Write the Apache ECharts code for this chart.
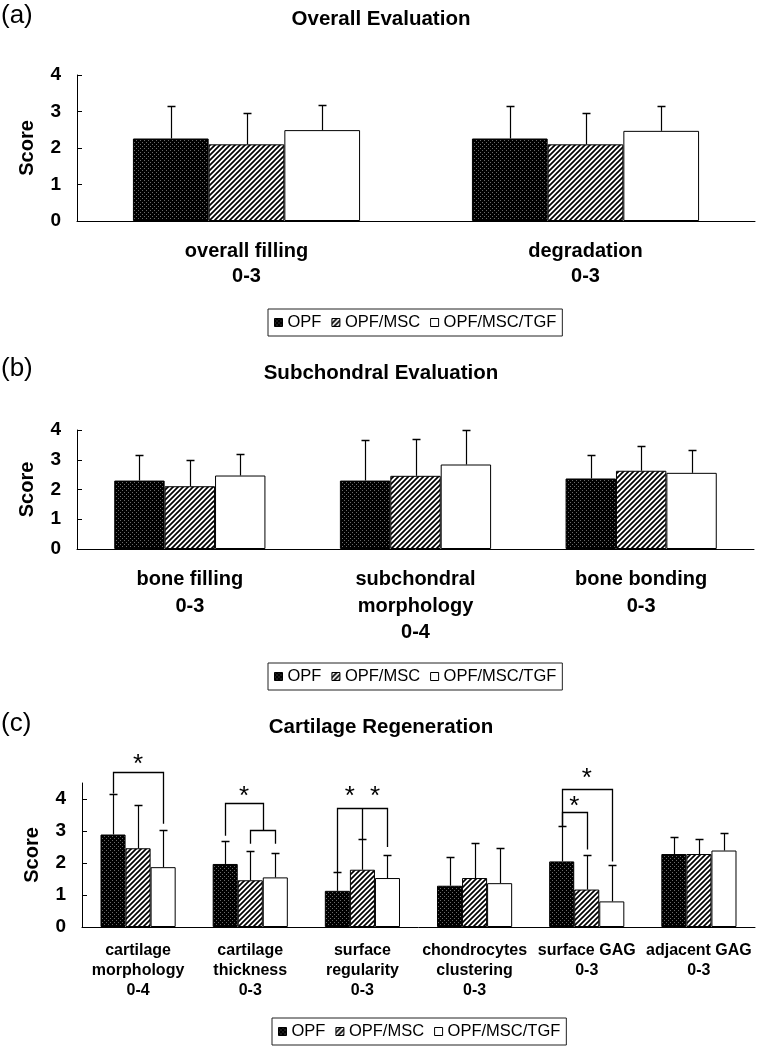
<!DOCTYPE html>
<html><head><meta charset="utf-8">
<script src="https://cdn.jsdelivr.net/npm/echarts@6/dist/echarts.min.js"></script>
<style>html,body{margin:0;padding:0;background:#fff}#c{width:758px;height:1048px}</style>
</head><body><div id="c"></div>
<script>
// ---------------- data ----------------
const seriesNames = ['OPF', 'OPF/MSC', 'OPF/MSC/TGF'];
const panelLetters = ['(a)', '(b)', '(c)'];
const panelTitles = ['Overall Evaluation', 'Subchondral Evaluation', 'Cartilage Regeneration'];
const yTicks = [0, 1, 2, 3, 4];

// (a) Overall Evaluation
const catsA = ['overall filling\n0-3', 'degradation\n0-3'];
const meanA_OPF = [2.26, 2.26];
const meanA_MSC = [2.10, 2.10];
const meanA_TGF = [2.49, 2.47];
const sdA_OPF = [0.88, 0.88];
const sdA_MSC = [0.87, 0.87];
const sdA_TGF = [0.69, 0.67];

// (b) Subchondral Evaluation
const catsB = ['bone filling\n0-3', 'subchondral\nmorphology\n0-4', 'bone bonding\n0-3'];
const meanB_OPF = [2.30, 2.30, 2.37];
const meanB_MSC = [2.11, 2.46, 2.63];
const meanB_TGF = [2.47, 2.84, 2.56];
const sdB_OPF = [0.86, 1.38, 0.79];
const sdB_MSC = [0.88, 1.24, 0.83];
const sdB_TGF = [0.73, 1.15, 0.77];

// (c) Cartilage Regeneration
const catsC = ['cartilage\nmorphology\n0-4', 'cartilage\nthickness\n0-3', 'surface\nregularity\n0-3',
               'chondrocytes\nclustering\n0-3', 'surface GAG\n0-3', 'adjacent GAG\n0-3'];
const meanC_OPF = [2.89, 1.97, 1.13, 1.29, 2.05, 2.28];
const meanC_MSC = [2.46, 1.46, 1.79, 1.53, 1.17, 2.28];
const meanC_TGF = [1.87, 1.55, 1.53, 1.37, 0.80, 2.39];
const sdC_OPF = [1.28, 0.72, 0.58, 0.89, 1.11, 0.53];
const sdC_MSC = [1.35, 0.91, 0.96, 1.09, 1.07, 0.46];
const sdC_TGF = [1.16, 0.76, 0.71, 1.11, 1.15, 0.55];

// significance brackets in panel (c): [category, fromBar, toBar, topValue, fromLegBottom, toLegBottom]
const bracketsC = [
  [0, 0, 2, 4.83, 4.17, 3.23],
  [1, 0, 1.5, 3.87, 2.85, 3.02],
  [1, 1, 2, 3.02, 2.60, 2.60],
  [2, 0, 2, 3.72, 1.71, 2.50],
  [2, 1, 1, 3.72, 2.75, 2.75],
  [4, 0, 2, 4.31, 3.16, 2.05],
  [4, 0, 1, 3.59, 3.16, 2.42]
];
// stars: [category, barPosition, value]
const starsC = [
  [0, 1, 5.22],
  [1, 0.75, 4.23],
  [2, 0.5, 4.23],
  [2, 1.5, 4.23],
  [4, 1, 4.80],
  [4, 0.5, 3.91]
];

// ---------------- styling helpers ----------------
const SANS = "'Liberation Sans', Arial, Helvetica, sans-serif";
const GAP = 0.33;

function makeDots() {
  const c = document.createElement('canvas'); c.width = 4; c.height = 4;
  const g = c.getContext('2d');
  g.fillStyle = '#000'; g.fillRect(0, 0, 4, 4);
  g.fillStyle = '#6a6a6a'; g.fillRect(0, 0, 1, 1); g.fillRect(2, 2, 1, 1);
  return c;
}
function makeHatch() {
  const s = 5;
  const c = document.createElement('canvas'); c.width = s; c.height = s;
  const g = c.getContext('2d');
  g.fillStyle = '#fff'; g.fillRect(0, 0, s, s);
  g.strokeStyle = '#000'; g.lineWidth = 1.7;
  g.beginPath();
  g.moveTo(-1, s + 1); g.lineTo(s + 1, -1);
  g.moveTo(-1, 1); g.lineTo(1, -1);
  g.moveTo(s - 1, s + 1); g.lineTo(s + 1, s - 1);
  g.stroke();
  return c;
}
const fills = [
  { image: makeDots(), repeat: 'repeat' },
  { image: makeHatch(), repeat: 'repeat' },
  '#ffffff'
];

const panels = [
  { cats: catsA, means: [meanA_OPF, meanA_MSC, meanA_TGF], sds: [sdA_OPF, sdA_MSC, sdA_TGF],
    grid: { left: 77, top: 75, width: 678, height: 146 }, max: 4,
    labelFont: 20, lineH: 25, margin: 18 },
  { cats: catsB, means: [meanB_OPF, meanB_MSC, meanB_TGF], sds: [sdB_OPF, sdB_MSC, sdB_TGF],
    grid: { left: 77, top: 430, width: 677, height: 119 }, max: 4,
    labelFont: 20, lineH: 26.5, margin: 17.5 },
  { cats: catsC, means: [meanC_OPF, meanC_MSC, meanC_TGF], sds: [sdC_OPF, sdC_MSC, sdC_TGF],
    grid: { left: 82, top: 783, width: 673, height: 144 }, max: 4.5,
    labelFont: 16, lineH: 20, margin: 14 }
];

function barX(api, cat, pos) {
  const band = api.size([1, 0])[0];
  const bw = band * (1 - GAP) / 3;
  const c = api.coord([cat, 0]);
  return c[0] + (pos - 1) * bw;
}

function errRender(params, api) {
  const cat = api.value(0), bi = api.value(1);
  const base = api.coord([cat, api.value(2)]);
  const top = api.coord([cat, api.value(3)]);
  const x = Math.round(barX(api, cat, bi)) + 0.5;
  const yt = Math.round(top[1]) + 0.5;
  return { type: 'group', children: [
    { type: 'line', shape: { x1: x, y1: base[1], x2: x, y2: yt }, style: { stroke: '#000', lineWidth: 1.2 } },
    { type: 'line', shape: { x1: x - 4, y1: yt, x2: x + 4, y2: yt }, style: { stroke: '#000', lineWidth: 1.5 } }
  ] };
}

function bracketRender(params, api) {
  const cat = api.value(0);
  const x1 = Math.round(barX(api, cat, api.value(1))) + 0.5;
  const x2 = Math.round(barX(api, cat, api.value(2))) + 0.5;
  const yTop = Math.round(api.coord([cat, api.value(3)])[1]) + 0.5;
  const yL = api.coord([cat, api.value(4)])[1];
  const yR = api.coord([cat, api.value(5)])[1];
  return { type: 'polyline', shape: { points: [[x1, yL], [x1, yTop], [x2, yTop], [x2, yR]] },
           style: { stroke: '#000', lineWidth: 1.3, fill: null } };
}

function starRender(params, api) {
  const cat = api.value(0);
  const x = barX(api, cat, api.value(1));
  const y = api.coord([cat, api.value(2)])[1];
  return { type: 'text', x: x, y: y + 5,
           style: { text: '*', fill: '#000', font: 'normal 26px ' + SANS, align: 'center', verticalAlign: 'middle' } };
}

const grids = [], xAxes = [], yAxes = [], series = [], legends = [], graphics = [];

const legendTops = [309, 663, 1018];
const legendLefts = [268, 268, 272];
const titleYs = [19, 373, 727];
const letterYs = [16, 369, 724];

panels.forEach((p, pi) => {
  grids.push(Object.assign({ containLabel: false }, p.grid));
  xAxes.push({
    type: 'category', gridIndex: pi, data: p.cats,
    axisLine: { lineStyle: { color: '#000', width: 1 } },
    axisTick: { inside: true, length: 5, lineStyle: { color: '#000' } },
    axisLabel: { color: '#000', fontFamily: SANS, fontWeight: 'bold', fontSize: p.labelFont,
                 lineHeight: p.lineH, margin: p.margin, interval: 0 },
    splitLine: { show: false }
  });
  yAxes.push({
    type: 'value', gridIndex: pi, min: 0, max: p.max, interval: 1,
    name: 'Score', nameLocation: 'middle', nameGap: 40,
    nameTextStyle: { color: '#000', fontFamily: SANS, fontWeight: 'bold', fontSize: 20 },
    axisLine: { show: true, lineStyle: { color: '#000', width: 1 } },
    axisTick: { show: true, inside: true, length: 5, lineStyle: { color: '#000' }, customValues: yTicks },
    axisLabel: { color: '#000', fontFamily: SANS, fontWeight: 'bold', fontSize: 19, margin: 16, customValues: yTicks },
    splitLine: { show: false }
  });
  p.means.forEach((m, si) => {
    series.push({
      type: 'bar', name: seriesNames[si], xAxisIndex: pi, yAxisIndex: pi, data: m,
      barGap: '0%', barCategoryGap: (GAP * 100) + '%',
      itemStyle: { color: fills[si], borderColor: '#000', borderWidth: 1 },
      emphasis: { disabled: true }, silent: true, z: 2
    });
  });
  const errData = [];
  p.cats.forEach((c, ci) => {
    p.means.forEach((m, si) => errData.push([ci, si, m[ci], m[ci] + p.sds[si][ci]]));
  });
  series.push({
    type: 'custom', xAxisIndex: pi, yAxisIndex: pi, data: errData, renderItem: errRender,
    encode: { x: 0, y: 3 }, z: 3, silent: true, clip: false
  });
  legends.push({
    left: legendLefts[pi], top: legendTops[pi], orient: 'horizontal',
    selectedMode: false, itemWidth: 8, itemHeight: 8, itemGap: 10,
    padding: [5, 6, 5, 6], borderColor: '#222', borderWidth: 1,
    textStyle: { color: '#000', fontFamily: SANS, fontSize: 16.5 },
    data: seriesNames.map((n, i) => ({ name: n, icon: 'rect',
      itemStyle: { color: fills[i], borderColor: '#000', borderWidth: 1 } }))
  });
  graphics.push({ type: 'text', x: 381, y: titleYs[pi],
    style: { text: panelTitles[pi], fill: '#000', font: 'bold 20.5px ' + SANS, align: 'center', verticalAlign: 'middle' } });
  graphics.push({ type: 'text', x: 1, y: letterYs[pi],
    style: { text: panelLetters[pi], fill: '#000', font: 'normal 26px ' + SANS, align: 'left', verticalAlign: 'middle' } });
});

series.push({
  type: 'custom', xAxisIndex: 2, yAxisIndex: 2, data: bracketsC, renderItem: bracketRender,
  encode: { x: 0, y: 3 }, z: 4, silent: true, clip: false
});
series.push({
  type: 'custom', xAxisIndex: 2, yAxisIndex: 2, data: starsC, renderItem: starRender,
  encode: { x: 0, y: 2 }, z: 4, silent: true, clip: false
});

const chart = echarts.init(document.getElementById('c'), null, { renderer: 'canvas' });
chart.setOption({
  animation: false,
  backgroundColor: '#fff',
  grid: grids, xAxis: xAxes, yAxis: yAxes, legend: legends, series: series,
  graphic: graphics
});
</script></body></html>
